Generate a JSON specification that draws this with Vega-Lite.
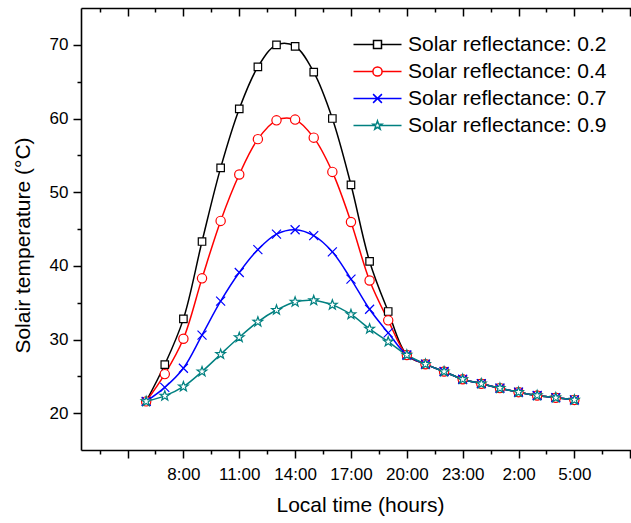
{
  "$schema": "https://vega.github.io/schema/vega-lite/v6.json",
  "width": 550,
  "height": 442,
  "autosize": "none",
  "padding": {"left": 81, "top": 8, "right": 0, "bottom": 73},
  "background": "white",
  "config": {
    "view": {"stroke": null},
    "font": "Liberation Sans",
    "axis": {
      "grid": false,
      "domainColor": "black",
      "domainWidth": 1.6,
      "tickColor": "black",
      "tickWidth": 1.5,
      "labelColor": "black",
      "labelFont": "Liberation Sans",
      "labelFontSize": 17,
      "labelPadding": 5,
      "labelOverlap": false,
      "labelFlush": false,
      "titleColor": "black",
      "titleFont": "Liberation Sans",
      "titleFontSize": 21,
      "titleFontWeight": "normal"
    }
  },
  "data": {
    "values": [
      {"series": "Solar reflectance: 0.2", "hour": 6, "temp": 21.6},
      {"series": "Solar reflectance: 0.2", "hour": 7, "temp": 26.6},
      {"series": "Solar reflectance: 0.2", "hour": 8, "temp": 32.8},
      {"series": "Solar reflectance: 0.2", "hour": 9, "temp": 43.3},
      {"series": "Solar reflectance: 0.2", "hour": 10, "temp": 53.3},
      {"series": "Solar reflectance: 0.2", "hour": 11, "temp": 61.3},
      {"series": "Solar reflectance: 0.2", "hour": 12, "temp": 67.0},
      {"series": "Solar reflectance: 0.2", "hour": 13, "temp": 70.0},
      {"series": "Solar reflectance: 0.2", "hour": 14, "temp": 69.8},
      {"series": "Solar reflectance: 0.2", "hour": 15, "temp": 66.3},
      {"series": "Solar reflectance: 0.2", "hour": 16, "temp": 60.0},
      {"series": "Solar reflectance: 0.2", "hour": 17, "temp": 51.0},
      {"series": "Solar reflectance: 0.2", "hour": 18, "temp": 40.6},
      {"series": "Solar reflectance: 0.2", "hour": 19, "temp": 33.8},
      {"series": "Solar reflectance: 0.2", "hour": 20, "temp": 27.9},
      {"series": "Solar reflectance: 0.2", "hour": 21, "temp": 26.65},
      {"series": "Solar reflectance: 0.2", "hour": 22, "temp": 25.65},
      {"series": "Solar reflectance: 0.2", "hour": 23, "temp": 24.6},
      {"series": "Solar reflectance: 0.2", "hour": 24, "temp": 24.0},
      {"series": "Solar reflectance: 0.2", "hour": 25, "temp": 23.4},
      {"series": "Solar reflectance: 0.2", "hour": 26, "temp": 22.85},
      {"series": "Solar reflectance: 0.2", "hour": 27, "temp": 22.4},
      {"series": "Solar reflectance: 0.2", "hour": 28, "temp": 22.1},
      {"series": "Solar reflectance: 0.2", "hour": 29, "temp": 21.8},
      {"series": "Solar reflectance: 0.4", "hour": 6, "temp": 21.6},
      {"series": "Solar reflectance: 0.4", "hour": 7, "temp": 25.3},
      {"series": "Solar reflectance: 0.4", "hour": 8, "temp": 30.1},
      {"series": "Solar reflectance: 0.4", "hour": 9, "temp": 38.3},
      {"series": "Solar reflectance: 0.4", "hour": 10, "temp": 46.1},
      {"series": "Solar reflectance: 0.4", "hour": 11, "temp": 52.4},
      {"series": "Solar reflectance: 0.4", "hour": 12, "temp": 57.2},
      {"series": "Solar reflectance: 0.4", "hour": 13, "temp": 59.75},
      {"series": "Solar reflectance: 0.4", "hour": 14, "temp": 59.85},
      {"series": "Solar reflectance: 0.4", "hour": 15, "temp": 57.4},
      {"series": "Solar reflectance: 0.4", "hour": 16, "temp": 52.75},
      {"series": "Solar reflectance: 0.4", "hour": 17, "temp": 45.95},
      {"series": "Solar reflectance: 0.4", "hour": 18, "temp": 38.0},
      {"series": "Solar reflectance: 0.4", "hour": 19, "temp": 32.6},
      {"series": "Solar reflectance: 0.4", "hour": 20, "temp": 27.9},
      {"series": "Solar reflectance: 0.4", "hour": 21, "temp": 26.65},
      {"series": "Solar reflectance: 0.4", "hour": 22, "temp": 25.65},
      {"series": "Solar reflectance: 0.4", "hour": 23, "temp": 24.6},
      {"series": "Solar reflectance: 0.4", "hour": 24, "temp": 24.0},
      {"series": "Solar reflectance: 0.4", "hour": 25, "temp": 23.4},
      {"series": "Solar reflectance: 0.4", "hour": 26, "temp": 22.85},
      {"series": "Solar reflectance: 0.4", "hour": 27, "temp": 22.4},
      {"series": "Solar reflectance: 0.4", "hour": 28, "temp": 22.1},
      {"series": "Solar reflectance: 0.4", "hour": 29, "temp": 21.8},
      {"series": "Solar reflectance: 0.7", "hour": 6, "temp": 21.6},
      {"series": "Solar reflectance: 0.7", "hour": 7, "temp": 23.5},
      {"series": "Solar reflectance: 0.7", "hour": 8, "temp": 26.1},
      {"series": "Solar reflectance: 0.7", "hour": 9, "temp": 30.6},
      {"series": "Solar reflectance: 0.7", "hour": 10, "temp": 35.2},
      {"series": "Solar reflectance: 0.7", "hour": 11, "temp": 39.1},
      {"series": "Solar reflectance: 0.7", "hour": 12, "temp": 42.2},
      {"series": "Solar reflectance: 0.7", "hour": 13, "temp": 44.3},
      {"series": "Solar reflectance: 0.7", "hour": 14, "temp": 44.9},
      {"series": "Solar reflectance: 0.7", "hour": 15, "temp": 44.1},
      {"series": "Solar reflectance: 0.7", "hour": 16, "temp": 41.9},
      {"series": "Solar reflectance: 0.7", "hour": 17, "temp": 38.2},
      {"series": "Solar reflectance: 0.7", "hour": 18, "temp": 34.1},
      {"series": "Solar reflectance: 0.7", "hour": 19, "temp": 30.9},
      {"series": "Solar reflectance: 0.7", "hour": 20, "temp": 27.9},
      {"series": "Solar reflectance: 0.7", "hour": 21, "temp": 26.65},
      {"series": "Solar reflectance: 0.7", "hour": 22, "temp": 25.65},
      {"series": "Solar reflectance: 0.7", "hour": 23, "temp": 24.6},
      {"series": "Solar reflectance: 0.7", "hour": 24, "temp": 24.0},
      {"series": "Solar reflectance: 0.7", "hour": 25, "temp": 23.4},
      {"series": "Solar reflectance: 0.7", "hour": 26, "temp": 22.85},
      {"series": "Solar reflectance: 0.7", "hour": 27, "temp": 22.4},
      {"series": "Solar reflectance: 0.7", "hour": 28, "temp": 22.1},
      {"series": "Solar reflectance: 0.7", "hour": 29, "temp": 21.8},
      {"series": "Solar reflectance: 0.9", "hour": 6, "temp": 21.6},
      {"series": "Solar reflectance: 0.9", "hour": 7, "temp": 22.35},
      {"series": "Solar reflectance: 0.9", "hour": 8, "temp": 23.6},
      {"series": "Solar reflectance: 0.9", "hour": 9, "temp": 25.65},
      {"series": "Solar reflectance: 0.9", "hour": 10, "temp": 28.0},
      {"series": "Solar reflectance: 0.9", "hour": 11, "temp": 30.3},
      {"series": "Solar reflectance: 0.9", "hour": 12, "temp": 32.4},
      {"series": "Solar reflectance: 0.9", "hour": 13, "temp": 34.0},
      {"series": "Solar reflectance: 0.9", "hour": 14, "temp": 35.1},
      {"series": "Solar reflectance: 0.9", "hour": 15, "temp": 35.3},
      {"series": "Solar reflectance: 0.9", "hour": 16, "temp": 34.7},
      {"series": "Solar reflectance: 0.9", "hour": 17, "temp": 33.4},
      {"series": "Solar reflectance: 0.9", "hour": 18, "temp": 31.45},
      {"series": "Solar reflectance: 0.9", "hour": 19, "temp": 29.7},
      {"series": "Solar reflectance: 0.9", "hour": 20, "temp": 27.9},
      {"series": "Solar reflectance: 0.9", "hour": 21, "temp": 26.65},
      {"series": "Solar reflectance: 0.9", "hour": 22, "temp": 25.65},
      {"series": "Solar reflectance: 0.9", "hour": 23, "temp": 24.6},
      {"series": "Solar reflectance: 0.9", "hour": 24, "temp": 24.0},
      {"series": "Solar reflectance: 0.9", "hour": 25, "temp": 23.4},
      {"series": "Solar reflectance: 0.9", "hour": 26, "temp": 22.85},
      {"series": "Solar reflectance: 0.9", "hour": 27, "temp": 22.4},
      {"series": "Solar reflectance: 0.9", "hour": 28, "temp": 22.1},
      {"series": "Solar reflectance: 0.9", "hour": 29, "temp": 21.8}
    ]
  },
  "encoding": {
    "y": {
      "field": "temp",
      "type": "quantitative",
      "scale": {"domain": [15, 75], "nice": false, "zero": false},
      "axis": {
        "orient": "left",
        "title": "Solair temperature (°C)",
        "titlePadding": 16,
        "titleY": 237,
        "values": [20, 25, 30, 35, 40, 45, 50, 55, 60, 65, 70],
        "labelExpr": "datum.value % 10 == 0 ? datum.label : ''",
        "tickSize": {"condition": {"test": "datum.value % 10 == 0", "value": 8}, "value": 4}
      }
    }
  },
  "layer": [
    {
      "mark": {"type": "line", "interpolate": "catmull-rom", "strokeWidth": 1.5},
      "encoding": {
        "x": {
          "field": "hour",
          "type": "quantitative",
          "scale": {"domain": [2.5, 32.04], "nice": false, "zero": false},
          "axis": {
            "orient": "top",
            "title": null,
            "labels": false,
            "values": [3.5, 5, 6.5, 8, 9.5, 11, 12.5, 14, 15.5, 17, 18.5, 20, 21.5, 23, 24.5, 26, 27.5, 29, 30.5, 32],
            "tickSize": {"condition": {"test": "datum.value % 3 == 2", "value": -8}, "value": -4}
          }
        },
        "stroke": {
          "field": "series",
          "type": "nominal",
          "scale": {
            "domain": ["Solar reflectance: 0.9", "Solar reflectance: 0.7", "Solar reflectance: 0.4", "Solar reflectance: 0.2"],
            "range": ["#008080", "#0000ff", "#ff0000", "#000000"]
          },
          "legend": null
        },
        "detail": {"field": "series"}
      }
    },
    {
      "mark": {"type": "point", "filled": false, "fill": "white", "fillOpacity": 1, "opacity": 1, "strokeWidth": 1.2, "size": 81},
      "encoding": {
        "x": {
          "field": "hour",
          "type": "quantitative",
          "axis": {
            "orient": "bottom",
            "title": "Local time (hours)",
            "titlePadding": 12,
            "labelPadding": 8,
            "titleX": 279,
            "values": [3.5, 5, 6.5, 8, 9.5, 11, 12.5, 14, 15.5, 17, 18.5, 20, 21.5, 23, 24.5, 26, 27.5, 29, 30.5, 32],
            "labelExpr": "datum.value >= 8 && datum.value <= 29 && datum.value % 3 == 2 ? (datum.value % 24) + ':00' : ''",
            "tickSize": {"condition": {"test": "datum.value % 3 == 2", "value": 8}, "value": 4}
          }
        },
        "stroke": {
          "field": "series",
          "type": "nominal",
          "scale": {
            "domain": ["Solar reflectance: 0.9", "Solar reflectance: 0.7", "Solar reflectance: 0.4", "Solar reflectance: 0.2"],
            "range": ["#008080", "#0000ff", "#ff0000", "#000000"]
          },
          "legend": null
        },
        "shape": {
          "field": "series",
          "type": "nominal",
          "scale": {
            "domain": ["Solar reflectance: 0.9", "Solar reflectance: 0.7", "Solar reflectance: 0.4", "Solar reflectance: 0.2"],
            "range": [
              "M0,-1.13L0.266,-0.366L1.075,-0.349L0.43,0.14L0.664,0.914L0,0.452L-0.664,0.914L-0.43,0.14L-1.075,-0.349L-0.266,-0.366Z",
              "M-1,-1L1,1M-1,1L1,-1",
              "M-1.03,0A1.03,1.03 0 1,0 1.03,0A1.03,1.03 0 1,0 -1.03,0Z",
              "M-0.83,-0.83H0.83V0.83H-0.83Z"
            ]
          },
          "legend": null
        }
      }
    },
    {
      "mark": {"type": "point", "filled": false, "opacity": 0, "strokeWidth": 1.5},
      "encoding": {
        "x": {"field": "hour", "type": "quantitative", "axis": null},
        "stroke": {
          "field": "series",
          "type": "nominal",
          "scale": {
            "domain": ["Solar reflectance: 0.2", "Solar reflectance: 0.4", "Solar reflectance: 0.7", "Solar reflectance: 0.9"],
            "range": ["#000000", "#ff0000", "#0000ff", "#008080"]
          },
          "legend": {
            "title": null,
            "orient": "none",
            "legendX": 286,
            "legendY": 26,
            "padding": 0,
            "labelFont": "Liberation Sans",
            "labelFontSize": 21,
            "labelColor": "black",
            "labelLimit": 500,
            "labelOffset": 20,
            "rowPadding": 5,
            "symbolSize": 64,
            "symbolStrokeWidth": 1.5,
            "symbolOpacity": 1
          }
        },
        "shape": {
          "field": "series",
          "type": "nominal",
          "scale": {
            "domain": ["Solar reflectance: 0.2", "Solar reflectance: 0.4", "Solar reflectance: 0.7", "Solar reflectance: 0.9"],
            "range": [
              "M-6,0H-1M1,0H6M-1,-1H1V1H-1Z",
              "M-6,0H-1.15M1.15,0H6M-1.15,0A1.15,1.15 0 1,0 1.15,0A1.15,1.15 0 1,0 -1.15,0Z",
              "M-6,0H6M-1.1,-1.1L1.1,1.1M-1.1,1.1L1.1,-1.1",
              "M-6,0H-0.62M0.62,0H6M0,-1.15L0.27,-0.373L1.094,-0.355L0.437,0.143L0.676,0.93L0,0.46L-0.676,0.93L-0.437,0.143L-1.094,-0.355L-0.27,-0.373Z"
            ]
          },
          "legend": {
            "title": null,
            "orient": "none",
            "legendX": 286,
            "legendY": 26,
            "padding": 0,
            "labelFont": "Liberation Sans",
            "labelFontSize": 21,
            "labelColor": "black",
            "labelLimit": 500,
            "labelOffset": 20,
            "rowPadding": 5,
            "symbolSize": 64,
            "symbolStrokeWidth": 1.5,
            "symbolOpacity": 1
          }
        }
      }
    }
  ],
  "resolve": {
    "axis": {"x": "independent"},
    "scale": {"shape": "independent", "stroke": "independent"},
    "legend": {"shape": "independent", "stroke": "independent"}
  }
}
